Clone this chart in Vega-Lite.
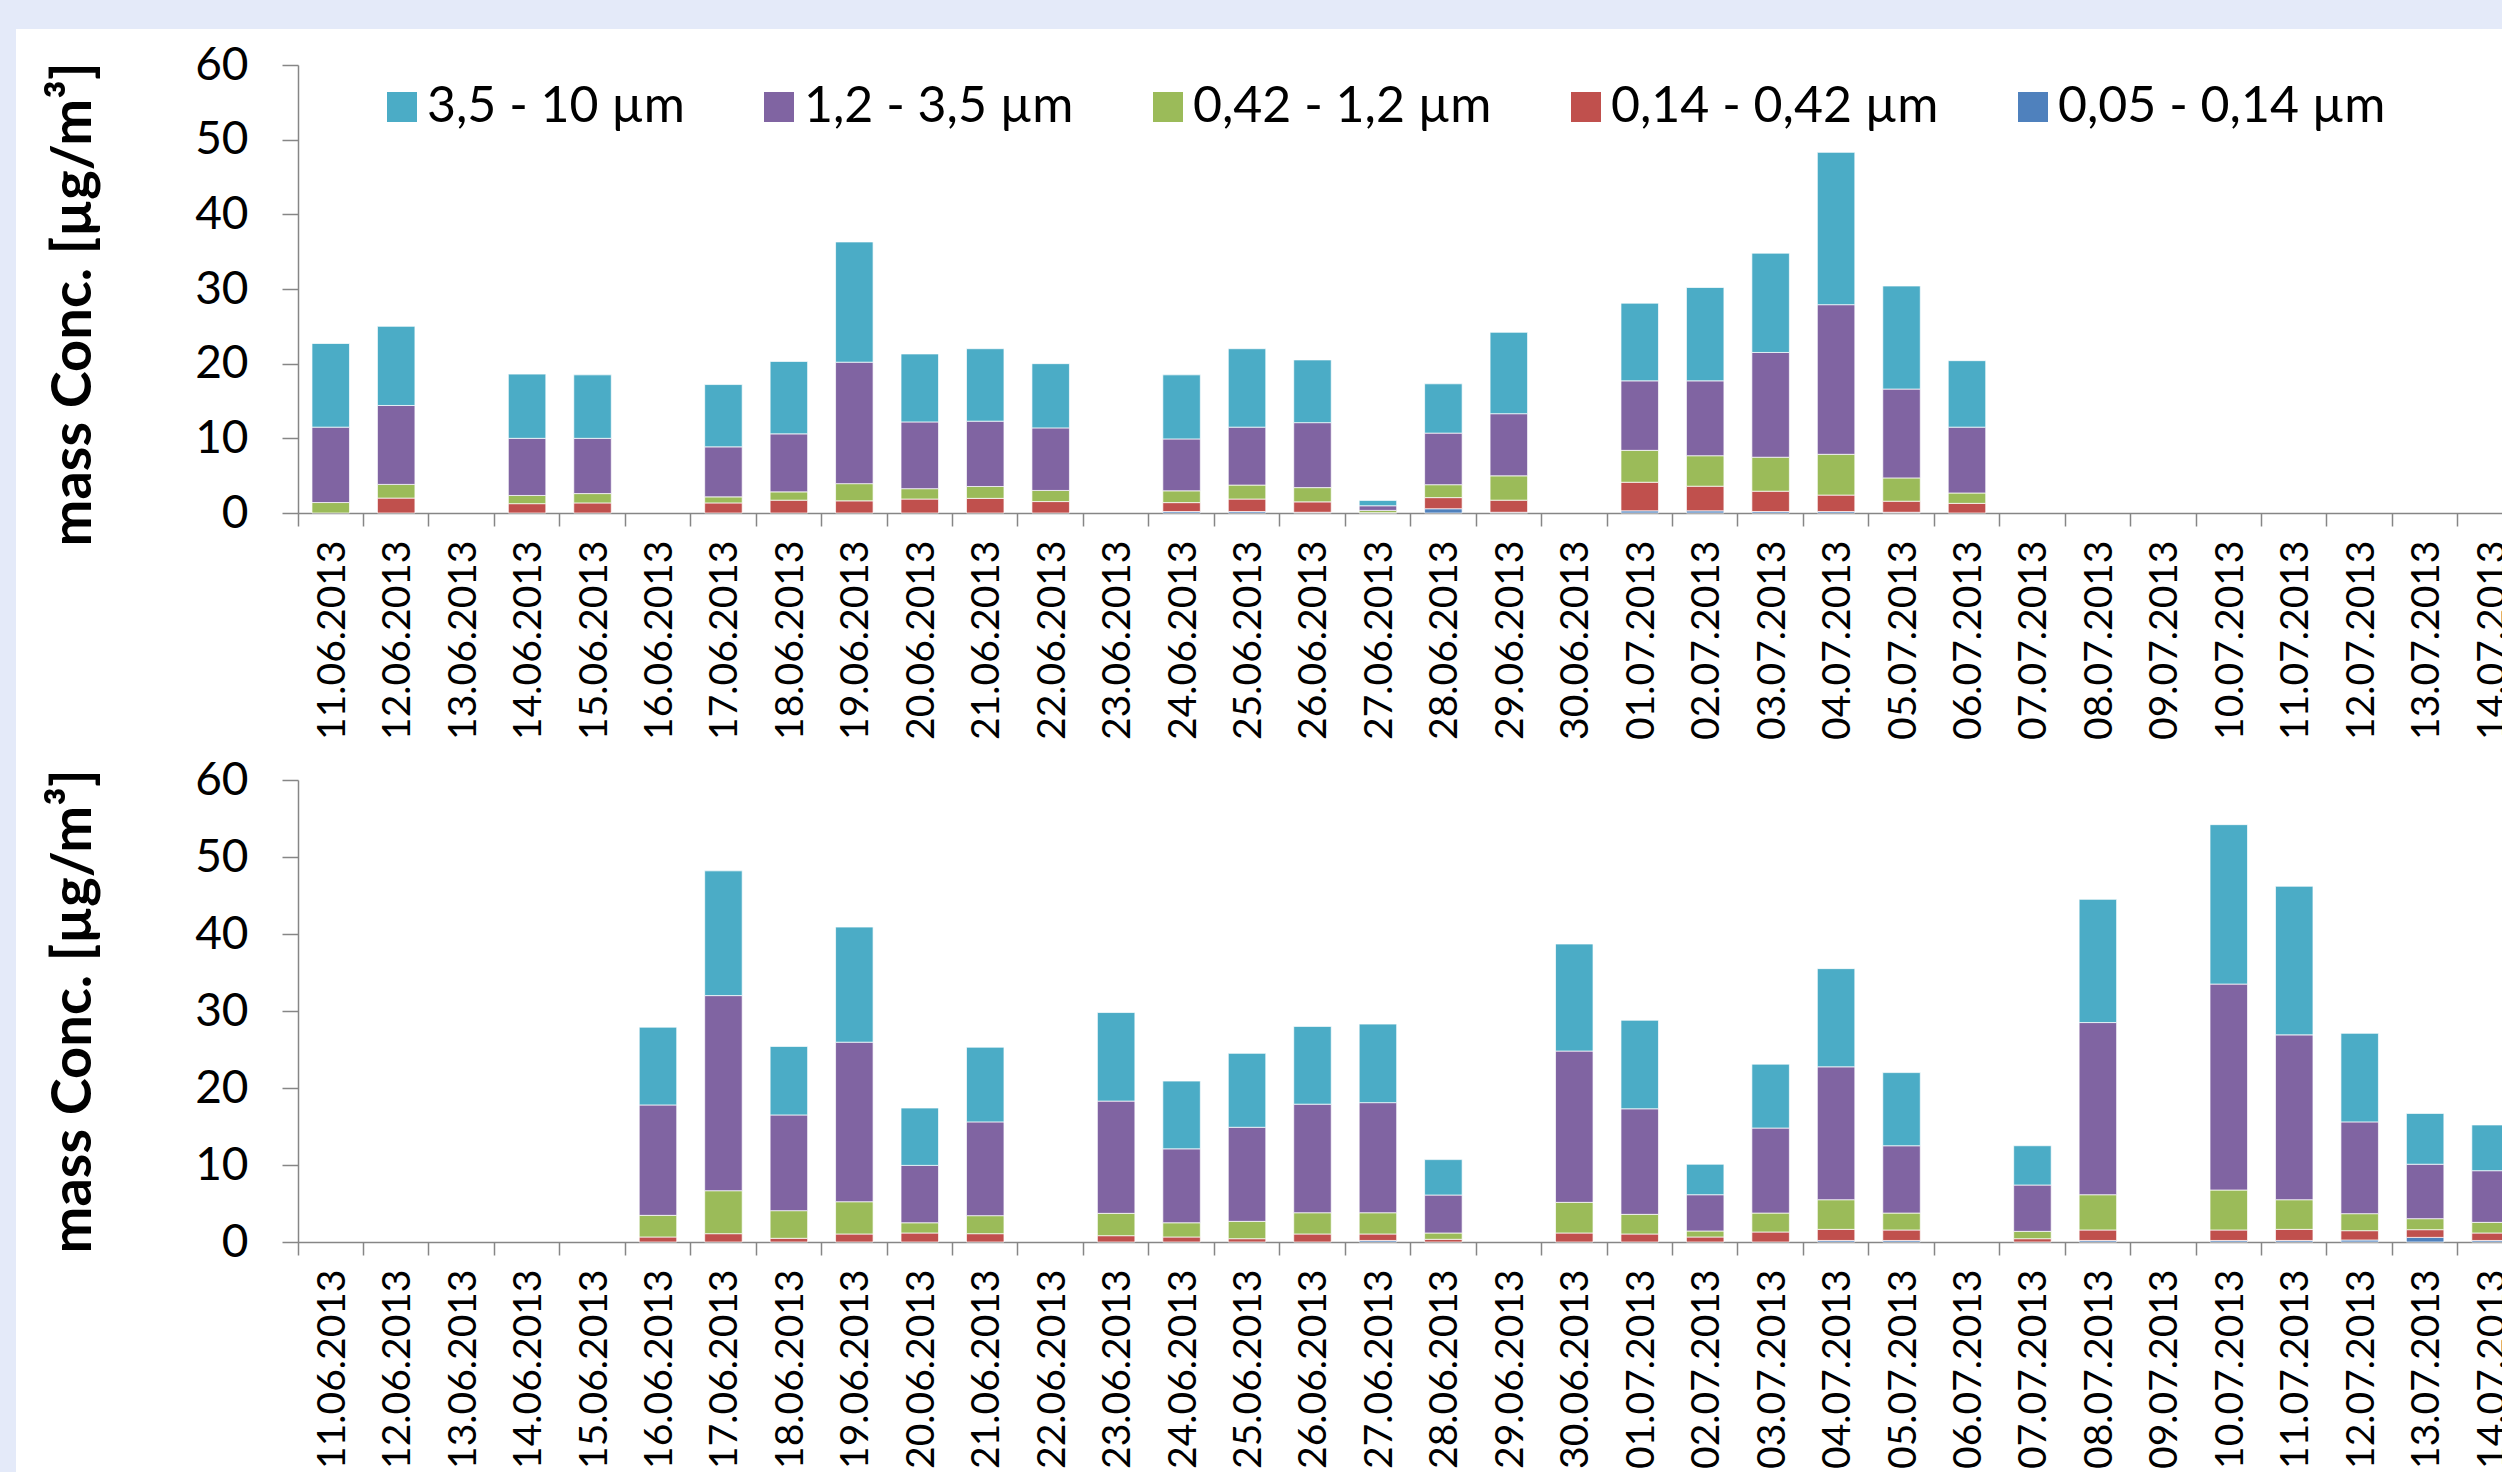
{
  "$schema": "https://vega.github.io/schema/vega-lite/v6.json",
  "padding": 0,
  "background": "white",
  "config": {"view": {"stroke": null}, "font": "Lato"},
  "datasets": {
    "top": [
      {"d": "11.06.2013", "0,05 - 0,14 µm": 0, "0,14 - 0,42 µm": 0, "0,42 - 1,2 µm": 1.4, "1,2 - 3,5 µm": 10.1, "3,5 - 10 µm": 11.2},
      {"d": "12.06.2013", "0,05 - 0,14 µm": 0, "0,14 - 0,42 µm": 2.0, "0,42 - 1,2 µm": 1.83, "1,2 - 3,5 µm": 10.57, "3,5 - 10 µm": 10.6},
      {"d": "14.06.2013", "0,05 - 0,14 µm": 0, "0,14 - 0,42 µm": 1.25, "0,42 - 1,2 µm": 1.1, "1,2 - 3,5 µm": 7.65, "3,5 - 10 µm": 8.6},
      {"d": "15.06.2013", "0,05 - 0,14 µm": 0, "0,14 - 0,42 µm": 1.35, "0,42 - 1,2 µm": 1.25, "1,2 - 3,5 µm": 7.4, "3,5 - 10 µm": 8.5},
      {"d": "17.06.2013", "0,05 - 0,14 µm": 0, "0,14 - 0,42 µm": 1.35, "0,42 - 1,2 µm": 0.81, "1,2 - 3,5 µm": 6.7, "3,5 - 10 µm": 8.34},
      {"d": "18.06.2013", "0,05 - 0,14 µm": 0, "0,14 - 0,42 µm": 1.72, "0,42 - 1,2 µm": 1.11, "1,2 - 3,5 µm": 7.77, "3,5 - 10 µm": 9.7},
      {"d": "19.06.2013", "0,05 - 0,14 µm": 0, "0,14 - 0,42 µm": 1.63, "0,42 - 1,2 µm": 2.3, "1,2 - 3,5 µm": 16.27, "3,5 - 10 µm": 16.1},
      {"d": "20.06.2013", "0,05 - 0,14 µm": 0, "0,14 - 0,42 µm": 1.87, "0,42 - 1,2 µm": 1.39, "1,2 - 3,5 µm": 8.94, "3,5 - 10 µm": 9.1},
      {"d": "21.06.2013", "0,05 - 0,14 µm": 0, "0,14 - 0,42 µm": 1.96, "0,42 - 1,2 µm": 1.59, "1,2 - 3,5 µm": 8.75, "3,5 - 10 µm": 9.7},
      {"d": "22.06.2013", "0,05 - 0,14 µm": 0, "0,14 - 0,42 µm": 1.53, "0,42 - 1,2 µm": 1.49, "1,2 - 3,5 µm": 8.38, "3,5 - 10 µm": 8.6},
      {"d": "24.06.2013", "0,05 - 0,14 µm": 0.2, "0,14 - 0,42 µm": 1.19, "0,42 - 1,2 µm": 1.58, "1,2 - 3,5 µm": 6.95, "3,5 - 10 µm": 8.58},
      {"d": "25.06.2013", "0,05 - 0,14 µm": 0.2, "0,14 - 0,42 µm": 1.67, "0,42 - 1,2 µm": 1.87, "1,2 - 3,5 µm": 7.76, "3,5 - 10 µm": 10.5},
      {"d": "26.06.2013", "0,05 - 0,14 µm": 0.1, "0,14 - 0,42 µm": 1.39, "0,42 - 1,2 µm": 1.91, "1,2 - 3,5 µm": 8.7, "3,5 - 10 µm": 8.4},
      {"d": "27.06.2013", "0,05 - 0,14 µm": 0, "0,14 - 0,42 µm": 0.05, "0,42 - 1,2 µm": 0.3, "1,2 - 3,5 µm": 0.62, "3,5 - 10 µm": 0.72},
      {"d": "28.06.2013", "0,05 - 0,14 µm": 0.57, "0,14 - 0,42 µm": 1.49, "0,42 - 1,2 µm": 1.73, "1,2 - 3,5 µm": 6.91, "3,5 - 10 µm": 6.6},
      {"d": "29.06.2013", "0,05 - 0,14 µm": 0.1, "0,14 - 0,42 µm": 1.62, "0,42 - 1,2 µm": 3.26, "1,2 - 3,5 µm": 8.32, "3,5 - 10 µm": 10.9},
      {"d": "01.07.2013", "0,05 - 0,14 µm": 0.29, "0,14 - 0,42 µm": 3.83, "0,42 - 1,2 µm": 4.27, "1,2 - 3,5 µm": 9.31, "3,5 - 10 µm": 10.4},
      {"d": "02.07.2013", "0,05 - 0,14 µm": 0.29, "0,14 - 0,42 µm": 3.3, "0,42 - 1,2 µm": 4.08, "1,2 - 3,5 µm": 10.03, "3,5 - 10 µm": 12.5},
      {"d": "03.07.2013", "0,05 - 0,14 µm": 0.2, "0,14 - 0,42 µm": 2.72, "0,42 - 1,2 µm": 4.55, "1,2 - 3,5 µm": 14.03, "3,5 - 10 µm": 13.3},
      {"d": "04.07.2013", "0,05 - 0,14 µm": 0.2, "0,14 - 0,42 µm": 2.2, "0,42 - 1,2 µm": 5.46, "1,2 - 3,5 µm": 20.04, "3,5 - 10 µm": 20.4},
      {"d": "05.07.2013", "0,05 - 0,14 µm": 0.1, "0,14 - 0,42 µm": 1.48, "0,42 - 1,2 µm": 3.12, "1,2 - 3,5 µm": 11.9, "3,5 - 10 µm": 13.8},
      {"d": "06.07.2013", "0,05 - 0,14 µm": 0, "0,14 - 0,42 µm": 1.29, "0,42 - 1,2 µm": 1.39, "1,2 - 3,5 µm": 8.82, "3,5 - 10 µm": 8.9}
    ],
    "bottom": [
      {"d": "16.06.2013", "0,05 - 0,14 µm": 0, "0,14 - 0,42 µm": 0.65, "0,42 - 1,2 µm": 2.81, "1,2 - 3,5 µm": 14.34, "3,5 - 10 µm": 10.1},
      {"d": "17.06.2013", "0,05 - 0,14 µm": 0, "0,14 - 0,42 µm": 1.08, "0,42 - 1,2 µm": 5.58, "1,2 - 3,5 µm": 25.34, "3,5 - 10 µm": 16.2},
      {"d": "18.06.2013", "0,05 - 0,14 µm": 0, "0,14 - 0,42 µm": 0.48, "0,42 - 1,2 µm": 3.59, "1,2 - 3,5 µm": 12.43, "3,5 - 10 µm": 8.9},
      {"d": "19.06.2013", "0,05 - 0,14 µm": 0, "0,14 - 0,42 µm": 1.04, "0,42 - 1,2 µm": 4.19, "1,2 - 3,5 µm": 20.72, "3,5 - 10 µm": 14.95},
      {"d": "20.06.2013", "0,05 - 0,14 µm": 0, "0,14 - 0,42 µm": 1.17, "0,42 - 1,2 µm": 1.33, "1,2 - 3,5 µm": 7.45, "3,5 - 10 µm": 7.45},
      {"d": "21.06.2013", "0,05 - 0,14 µm": 0, "0,14 - 0,42 µm": 1.08, "0,42 - 1,2 µm": 2.34, "1,2 - 3,5 µm": 12.18, "3,5 - 10 µm": 9.7},
      {"d": "23.06.2013", "0,05 - 0,14 µm": 0, "0,14 - 0,42 µm": 0.82, "0,42 - 1,2 µm": 2.9, "1,2 - 3,5 µm": 14.58, "3,5 - 10 µm": 11.5},
      {"d": "24.06.2013", "0,05 - 0,14 µm": 0, "0,14 - 0,42 µm": 0.65, "0,42 - 1,2 µm": 1.85, "1,2 - 3,5 µm": 9.6, "3,5 - 10 µm": 8.8},
      {"d": "25.06.2013", "0,05 - 0,14 µm": 0, "0,14 - 0,42 µm": 0.43, "0,42 - 1,2 µm": 2.25, "1,2 - 3,5 µm": 12.22, "3,5 - 10 µm": 9.6},
      {"d": "26.06.2013", "0,05 - 0,14 µm": 0, "0,14 - 0,42 µm": 1.04, "0,42 - 1,2 µm": 2.76, "1,2 - 3,5 µm": 14.1, "3,5 - 10 µm": 10.1},
      {"d": "27.06.2013", "0,05 - 0,14 µm": 0.2, "0,14 - 0,42 µm": 0.84, "0,42 - 1,2 µm": 2.76, "1,2 - 3,5 µm": 14.3, "3,5 - 10 µm": 10.2},
      {"d": "28.06.2013", "0,05 - 0,14 µm": 0, "0,14 - 0,42 µm": 0.35, "0,42 - 1,2 µm": 0.82, "1,2 - 3,5 µm": 4.93, "3,5 - 10 µm": 4.6},
      {"d": "30.06.2013", "0,05 - 0,14 µm": 0, "0,14 - 0,42 µm": 1.17, "0,42 - 1,2 µm": 3.98, "1,2 - 3,5 µm": 19.65, "3,5 - 10 µm": 13.9},
      {"d": "01.07.2013", "0,05 - 0,14 µm": 0, "0,14 - 0,42 µm": 1.04, "0,42 - 1,2 µm": 2.55, "1,2 - 3,5 µm": 13.71, "3,5 - 10 µm": 11.5},
      {"d": "02.07.2013", "0,05 - 0,14 µm": 0, "0,14 - 0,42 µm": 0.65, "0,42 - 1,2 µm": 0.78, "1,2 - 3,5 µm": 4.71, "3,5 - 10 µm": 3.96},
      {"d": "03.07.2013", "0,05 - 0,14 µm": 0, "0,14 - 0,42 µm": 1.3, "0,42 - 1,2 µm": 2.46, "1,2 - 3,5 µm": 11.04, "3,5 - 10 µm": 8.3},
      {"d": "04.07.2013", "0,05 - 0,14 µm": 0.2, "0,14 - 0,42 µm": 1.44, "0,42 - 1,2 µm": 3.85, "1,2 - 3,5 µm": 17.26, "3,5 - 10 µm": 12.75},
      {"d": "05.07.2013", "0,05 - 0,14 µm": 0.2, "0,14 - 0,42 µm": 1.36, "0,42 - 1,2 µm": 2.2, "1,2 - 3,5 µm": 8.74, "3,5 - 10 µm": 9.5},
      {"d": "07.07.2013", "0,05 - 0,14 µm": 0, "0,14 - 0,42 µm": 0.43, "0,42 - 1,2 µm": 0.95, "1,2 - 3,5 µm": 6.02, "3,5 - 10 µm": 5.1},
      {"d": "08.07.2013", "0,05 - 0,14 µm": 0.2, "0,14 - 0,42 µm": 1.36, "0,42 - 1,2 µm": 4.58, "1,2 - 3,5 µm": 22.36, "3,5 - 10 µm": 16.0},
      {"d": "10.07.2013", "0,05 - 0,14 µm": 0.2, "0,14 - 0,42 µm": 1.36, "0,42 - 1,2 µm": 5.19, "1,2 - 3,5 µm": 26.75, "3,5 - 10 µm": 20.7},
      {"d": "11.07.2013", "0,05 - 0,14 µm": 0.2, "0,14 - 0,42 µm": 1.44, "0,42 - 1,2 µm": 3.85, "1,2 - 3,5 µm": 21.41, "3,5 - 10 µm": 19.3},
      {"d": "12.07.2013", "0,05 - 0,14 µm": 0.26, "0,14 - 0,42 µm": 1.21, "0,42 - 1,2 µm": 2.21, "1,2 - 3,5 µm": 11.92, "3,5 - 10 µm": 11.5},
      {"d": "13.07.2013", "0,05 - 0,14 µm": 0.6, "0,14 - 0,42 µm": 1.0, "0,42 - 1,2 µm": 1.43, "1,2 - 3,5 µm": 7.07, "3,5 - 10 µm": 6.6},
      {"d": "14.07.2013", "0,05 - 0,14 µm": 0.2, "0,14 - 0,42 µm": 0.97, "0,42 - 1,2 µm": 1.38, "1,2 - 3,5 µm": 6.71, "3,5 - 10 µm": 5.94}
    ],
    "frame": [{"part": "frame"}]
  },
  "hconcat": [
    {
      "width": 16, "height": 1472,
      "data": {"name": "frame"},
      "view": {"fill": "#E4EAF9", "stroke": null},
      "mark": {"type": "rect", "color": "#E4EAF9"},
      "encoding": {}
    },
    {
      "vconcat": [
        {
          "width": 2486, "height": 29,
          "data": {"name": "frame"},
          "view": {"fill": "#E4EAF9", "stroke": null},
          "mark": {"type": "rect", "color": "#E4EAF9"},
          "encoding": {}
        },
        {
          "hconcat": [
            {
              "width": 1, "height": 1,
              "data": {"name": "frame"},
              "mark": {"type": "rect", "color": "white", "opacity": 0},
              "encoding": {}
            },
            {
              "vconcat": [
                {
                  "width": {"step": 65.45},
                  "height": 448,
                  "data": {"name": "top"},
                  "transform": [
                    {"fold": ["0,05 - 0,14 µm", "0,14 - 0,42 µm", "0,42 - 1,2 µm", "1,2 - 3,5 µm", "3,5 - 10 µm"], "as": ["size", "value"]},
                    {"filter": "datum.value > 0"}
                  ],
                  "mark": {"type": "bar", "width": {"band": 0.573}, "stroke": "white", "strokeWidth": 1, "strokeOpacity": 0.7},
                  "encoding": {
                    "x": {
                      "field": "d", "type": "nominal", "title": null,
                      "scale": {"domain": ["11.06.2013","12.06.2013","13.06.2013","14.06.2013","15.06.2013","16.06.2013","17.06.2013","18.06.2013","19.06.2013","20.06.2013","21.06.2013","22.06.2013","23.06.2013","24.06.2013","25.06.2013","26.06.2013","27.06.2013","28.06.2013","29.06.2013","30.06.2013","01.07.2013","02.07.2013","03.07.2013","04.07.2013","05.07.2013","06.07.2013","07.07.2013","08.07.2013","09.07.2013","10.07.2013","11.07.2013","12.07.2013","13.07.2013","14.07.2013"], "paddingInner": 0, "paddingOuter": 0},
                      "axis": {"labelAngle": -90, "labelFontSize": 39, "labelPadding": 14, "labelLimit": 0, "tickSize": 13, "bandPosition": 0, "labelOffset": 2, "labelOverlap": false, "domainColor": "#868686", "tickColor": "#868686", "domainWidth": 1.5, "tickWidth": 1.5, "labelColor": "black"}
                    },
                    "y": {
                      "field": "value", "type": "quantitative", "stack": "zero",
                      "scale": {"domain": [0, 60], "nice": false},
                      "axis": {"values": [0, 10, 20, 30, 40, 50, 60], "title": "mass Conc. [µg/m³]", "titleFontWeight": "bold", "titleFontSize": 56, "titlePadding": 92, "titleY": 239, "labelFontSize": 46, "labelPadding": 34, "tickSize": 16, "grid": false, "domainColor": "#868686", "tickColor": "#868686", "domainWidth": 1.5, "tickWidth": 1.5, "labelColor": "black", "titleColor": "black"}
                    },
                    "color": {
                      "field": "size", "type": "nominal",
                      "scale": {"domain": ["3,5 - 10 µm", "1,2 - 3,5 µm", "0,42 - 1,2 µm", "0,14 - 0,42 µm", "0,05 - 0,14 µm"], "range": ["#4BACC6", "#8064A2", "#9BBB59", "#C0504D", "#4F81BD"]},
                      "legend": {"orient": "none", "legendX": 79, "legendY": 17, "direction": "horizontal", "columns": 5, "title": null, "symbolType": "square", "symbolSize": 900, "symbolStrokeWidth": 0, "labelFontSize": 50, "labelOffset": 0, "columnPadding": 69, "padding": 0, "labelColor": "black", "labelLimit": 0}
                    },
                    "order": {"field": "size", "sort": "ascending"}
                  }
                },
                {
                  "width": {"step": 65.45},
                  "height": 462,
                  "data": {"name": "bottom"},
                  "transform": [
                    {"fold": ["0,05 - 0,14 µm", "0,14 - 0,42 µm", "0,42 - 1,2 µm", "1,2 - 3,5 µm", "3,5 - 10 µm"], "as": ["size", "value"]},
                    {"filter": "datum.value > 0"}
                  ],
                  "mark": {"type": "bar", "width": {"band": 0.573}, "stroke": "white", "strokeWidth": 1, "strokeOpacity": 0.7},
                  "encoding": {
                    "x": {
                      "field": "d", "type": "nominal", "title": null,
                      "scale": {"domain": ["11.06.2013","12.06.2013","13.06.2013","14.06.2013","15.06.2013","16.06.2013","17.06.2013","18.06.2013","19.06.2013","20.06.2013","21.06.2013","22.06.2013","23.06.2013","24.06.2013","25.06.2013","26.06.2013","27.06.2013","28.06.2013","29.06.2013","30.06.2013","01.07.2013","02.07.2013","03.07.2013","04.07.2013","05.07.2013","06.07.2013","07.07.2013","08.07.2013","09.07.2013","10.07.2013","11.07.2013","12.07.2013","13.07.2013","14.07.2013"], "paddingInner": 0, "paddingOuter": 0},
                      "axis": {"labelAngle": -90, "labelFontSize": 39, "labelPadding": 14, "labelLimit": 0, "tickSize": 13, "bandPosition": 0, "labelOffset": 2, "labelOverlap": false, "domainColor": "#868686", "tickColor": "#868686", "domainWidth": 1.5, "tickWidth": 1.5, "labelColor": "black"}
                    },
                    "y": {
                      "field": "value", "type": "quantitative", "stack": "zero",
                      "scale": {"domain": [0, 60], "nice": false},
                      "axis": {"values": [0, 10, 20, 30, 40, 50, 60], "title": "mass Conc. [µg/m³]", "titleFontWeight": "bold", "titleFontSize": 56, "titlePadding": 92, "labelFontSize": 46, "labelPadding": 34, "tickSize": 16, "grid": false, "domainColor": "#868686", "tickColor": "#868686", "domainWidth": 1.5, "tickWidth": 1.5, "labelColor": "black", "titleColor": "black"}
                    },
                    "color": {
                      "field": "size", "type": "nominal",
                      "scale": {"domain": ["3,5 - 10 µm", "1,2 - 3,5 µm", "0,42 - 1,2 µm", "0,14 - 0,42 µm", "0,05 - 0,14 µm"], "range": ["#4BACC6", "#8064A2", "#9BBB59", "#C0504D", "#4F81BD"]},
                      "legend": null
                    },
                    "order": {"field": "size", "sort": "ascending"}
                  }
                }
              ],
              "spacing": 267,
              "bounds": "flush",
              "resolve": {"scale": {"color": "independent"}}
            }
          ],
          "spacing": 28
        }
      ],
      "spacing": 13
    }
  ],
  "spacing": 0
}
